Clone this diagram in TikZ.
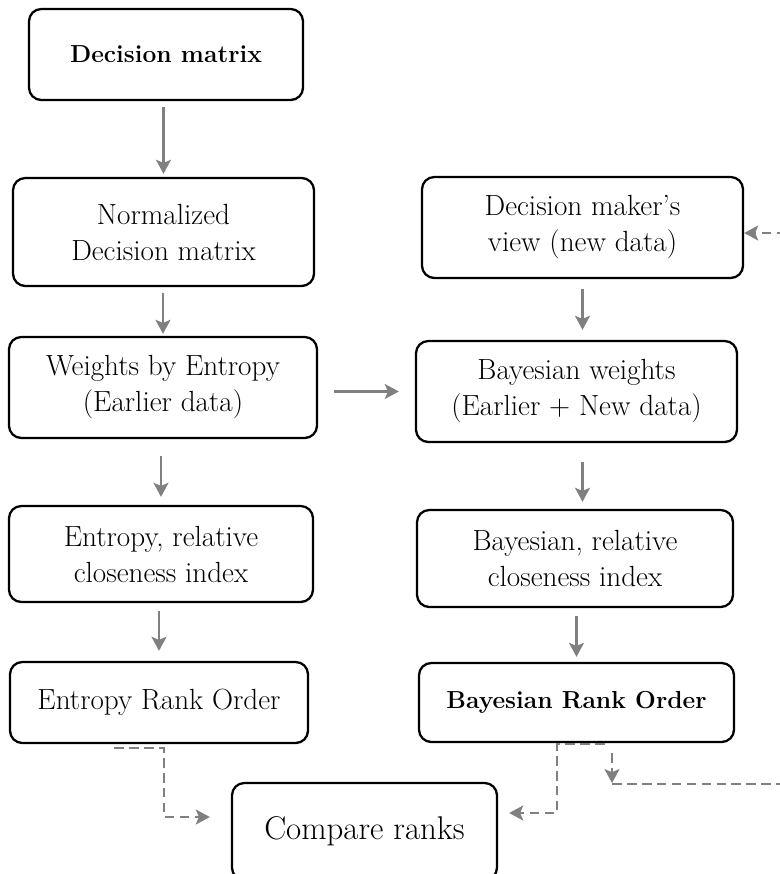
\documentclass[tikz,border=0pt]{standalone}
\usepackage{tikz}
\usetikzlibrary{arrows.meta}

\begin{document}
\begin{tikzpicture}[>={Stealth[length=8pt,width=8.5pt,inset=1.8pt]},
  blk/.style={draw,rectangle,rounded corners=7pt,line width=1.3pt,fill=white,
    align=center,inner sep=0pt,font=\fontsize{16.6}{20.5}\selectfont},
  hdr/.style={font=\fontsize{14}{16.5}\selectfont\bfseries},
  arr/.style={->,draw=gray,line width=1.4pt},
  dsh/.style={->,draw=gray,line width=1.4pt,dash pattern=on 5.5pt off 3pt}]
\clip (0,0) rectangle (15.6,-17.48);
\node[blk,hdr,minimum width=5.48cm,minimum height=1.82cm] (dm) at (3.32,-1.09) {Decision matrix};
\node[blk,minimum width=6.02cm,minimum height=2.16cm] (norm) at (3.27,-4.64) {Normalized\\Decision matrix};
\node[blk,minimum width=6.42cm,minimum height=2.02cm] (view) at (11.65,-4.55) {Decision maker's\\view (new data)};
\node[blk,minimum width=6.16cm,minimum height=2.02cm] (went) at (3.26,-7.75) {Weights by Entropy\\(Earlier data)};
\node[blk,minimum width=6.42cm,minimum height=2.02cm] (bwt) at (11.53,-7.83) {Bayesian weights\\(Earlier + New data)};
\node[blk,minimum width=6.08cm,minimum height=1.92cm] (erel) at (3.22,-11.08) {Entropy, relative\\closeness index};
\node[blk,minimum width=6.32cm,minimum height=1.94cm] (brel) at (11.5,-11.17) {Bayesian, relative\\closeness index};
\node[blk,minimum width=5.96cm,minimum height=1.62cm] (erank) at (3.18,-14.05) {Entropy Rank Order};
\node[blk,hdr,minimum width=6.3cm,minimum height=1.58cm] (brank) at (11.53,-14.05) {Bayesian Rank Order};
\node[blk,minimum width=5.3cm,minimum height=1.94cm,font=\fontsize{18.7}{22}\selectfont] (cmp) at (7.29,-16.63) {Compare ranks};
\coordinate (fb) at (12.24,-15.68);
\draw[arr,shorten <=0.12cm,shorten >=0.06cm] (norm.north |- dm.south) -- (norm.north);
\draw[arr,shorten <=0.12cm,shorten >=0.04cm] (went.north |- norm.south) -- (went.north);
\draw[arr,shorten <=0.34cm,shorten >=0.16cm] (erel.north |- went.south) -- (erel.north);
\draw[arr,shorten <=0.16cm,shorten >=0.2cm] (erank.north |- erel.south) -- (erank.north);
\draw[arr,shorten <=0.2cm,shorten >=0.2cm] (view.south) -- (view.south |- bwt.north);
\draw[arr,shorten <=0.38cm,shorten >=0.14cm] (view.south |- bwt.south) -- (view.south |- brel.north);
\draw[arr,shorten <=0.16cm,shorten >=0.1cm] (brank.north |- brel.south) -- (brank.north);
\draw[arr,shorten <=0.32cm,shorten >=0.32cm] (went.east |- bwt.west) -- (bwt.west);
\draw[dsh] ([xshift=-0.9cm,yshift=-0.08cm]erank.south) -- ++(1.0,0) |- ([xshift=-0.42cm,yshift=0.29cm]cmp.west);
\draw[dsh] ([xshift=0.57cm,yshift=-0.02cm]brank.south) -- ++(-0.96,0) |- ([xshift=0.22cm,yshift=0.37cm]cmp.east);
\draw[dsh] ([xshift=0.71cm,yshift=-0.2cm]brank.south) -- ++(0,-0.6);
\draw[dsh] (fb) -- ++(4,0) |- ([yshift=-0.11cm]view.east);
\end{tikzpicture}
\end{document}
